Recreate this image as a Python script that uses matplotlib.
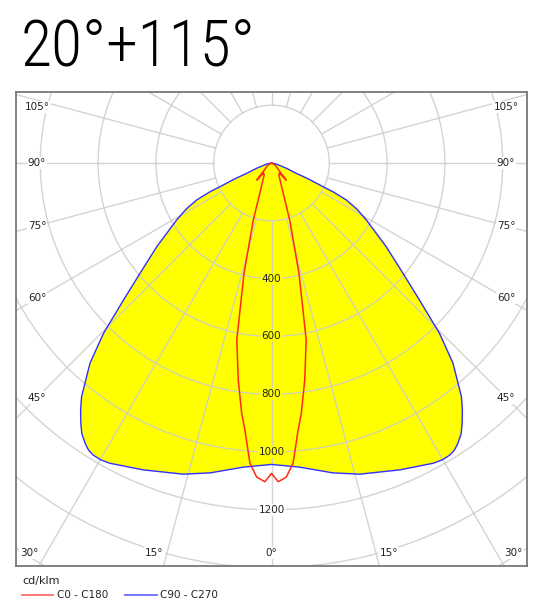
import numpy as np
import matplotlib
matplotlib.use('Agg')
import matplotlib.pyplot as plt
from matplotlib import font_manager
from matplotlib.patches import Circle
from matplotlib.lines import Line2D

# ---- data (angle from nadir in degrees, intensity in cd/klm), curves are symmetric
C0_ANGLES = [0, 1.2, 2.7, 4.1, 5.7, 6.8, 8.7, 11.1, 14, 17.7, 22, 26.6, 31.3, 38, 41, 44, 60, 90]
C0_CD = [1074, 1103, 1088, 1042, 928, 872, 760, 624, 393, 207, 101, 66, 49, 44, 78, 40, 15, 0]

C90_ANGLES = [0, 5.3, 11.2, 15.8, 22.7, 28.3, 29.9, 31.4, 32.5, 33.6, 35, 36.2, 37.7, 39.1,
              42.2, 44.6, 47.2, 50, 53.9, 59, 61.6, 63.7, 64.9, 65.5, 66.7, 67.4, 70.5, 78, 90]
C90_CD = [1043, 1057, 1093, 1119, 1151, 1180, 1185, 1184, 1178, 1165, 1144, 1117, 1080, 1042,
          935, 828, 698, 594, 491, 383, 336, 289, 236, 183, 138, 93, 55, 17, 0]

RINGS = [200, 400, 600, 800, 1000, 1200, 1400, 1600, 1800]
RING_LABELS = [400, 600, 800, 1000, 1200]
ANGLE_STEP = 15

TITLE = '20°+115°'
UNIT = 'cd/klm'
LEGEND = ['C0 - C180', 'C90 - C270']

# ---- style
W, H = 543, 614
S = 0.289            # px per cd
CX, CY = 271.5, 163  # polar origin in px
BOX = (16, 92, 527, 566)
GRID = '#cccccc'
TXT = '#222222'


def title_font(size):
    # light condensed sans for the big title, falling back step by step
    fl = font_manager.fontManager.ttflist
    wanted = [('Roboto Condensed', (300, 'light')),
              ('Roboto Condensed Light', (300, 400, 'light', 'normal', 'regular')),
              ('Roboto Condensed', (400, 'normal', 'regular')),
              ('Liberation Sans Narrow', (400, 'normal', 'regular'))]
    for nm, weights in wanted:
        for f in fl:
            if f.name == nm and f.style == 'normal' and f.weight in weights:
                return font_manager.FontProperties(fname=f.fname, size=size)
    return font_manager.FontProperties(family='DejaVu Sans', size=size * 0.8)


def half_xy(angles, cd):
    t = np.radians(np.array(angles, dtype=float))
    r = np.array(cd, dtype=float)
    return r * np.sin(t), -r * np.cos(t)


def mirrored(angles, cd):
    x, y = half_xy(angles, cd)
    return np.concatenate([-x[::-1], x[1:]]), np.concatenate([y[::-1], y[1:]])


fig = plt.figure(figsize=(W / 100, H / 100), dpi=100)
ax = fig.add_axes([BOX[0] / W, 1 - BOX[3] / H, (BOX[2] - BOX[0]) / W, (BOX[3] - BOX[1]) / H])
xmax = (BOX[2] - CX) / S
xmin = (BOX[0] - CX) / S
ymax = (CY - BOX[1]) / S
ymin = -(BOX[3] - CY) / S
ax.set_xlim(xmin, xmax)
ax.set_ylim(ymin, ymax)
ax.set_xticks([])
ax.set_yticks([])
for sp in ax.spines.values():
    sp.set_color('#777777')
    sp.set_linewidth(1.3)

# yellow area of the wide distribution
bx, by = mirrored(C90_ANGLES, C90_CD)
ax.fill(bx, by, color='#ffff00', lw=0, zorder=1)

# polar grid
for r in RINGS:
    ax.add_patch(Circle((0, 0), r, fill=False, ec=GRID, lw=1, alpha=0.85, zorder=2))
for a in range(0, 360, ANGLE_STEP):
    t = np.radians(a)
    ax.plot([RINGS[0] * np.sin(t), 3000 * np.sin(t)],
            [-RINGS[0] * np.cos(t), -3000 * np.cos(t)],
            color=GRID, lw=1, alpha=0.85, zorder=2)

# curves
ax.plot(bx, by, color='#3030ff', lw=1.0, zorder=4)
rx, ry = mirrored(C0_ANGLES, C0_CD)
ax.plot(rx, ry, color='#ff2a10', lw=1.1, zorder=5)

# ring labels along nadir
for r in RING_LABELS:
    inside = r < C90_CD[0]
    ax.text(0, -r, str(r), ha='center', va='center', fontsize=7.5, color=TXT, zorder=6,
            bbox=dict(boxstyle='square,pad=0.1', fc='#ffff00' if inside else 'white', ec='none'))

# angle labels where the spokes meet the frame
for a in range(0, 181, ANGLE_STEP):
    t = np.radians(a)
    sn, cs = np.sin(t), np.cos(t)
    d_side = xmax / sn if sn > 1e-9 else np.inf
    d_bot = -ymin / cs if cs > 1e-9 else np.inf
    d_top = ymax / -cs if cs < -1e-9 else np.inf
    if d_top < min(d_side, d_bot):
        continue
    for side in ([1] if a == 0 else [-1, 1]):
        if d_bot <= d_side:
            x = side * sn * d_bot
            y = ymin + 13 / S
            ha = 'center' if a == 0 else ('right' if side < 0 else 'left')
        else:
            x = side * (xmax - 21 / S)
            y = min(-cs / sn * abs(x), ymax - 15 / S)
            ha = 'center'
        ax.text(x, y, f'{a}°', ha=ha, va='center', fontsize=7.5, color=TXT, zorder=6,
                bbox=dict(boxstyle='square,pad=0.1', fc='white', ec='none'))

# title
fig.text(21 / W, 1 - 65 / H, TITLE, fontproperties=title_font(46), color='black',
         va='baseline', ha='left')

# unit and legend
fig.text(22 / W, 1 - 581 / H, UNIT, fontsize=8, color=TXT, va='center')
ly = 1 - 595 / H
fig.add_artist(Line2D([22 / W, 53 / W], [ly, ly], color='#ff6b6b', lw=1.3))
fig.text(57 / W, ly, LEGEND[0], fontsize=7.5, color=TXT, va='center')
fig.add_artist(Line2D([125 / W, 157 / W], [ly, ly], color='#6b6bff', lw=1.3))
fig.text(160 / W, ly, LEGEND[1], fontsize=7.5, color=TXT, va='center')

fig.savefig('out.png', dpi=100, facecolor='white')
